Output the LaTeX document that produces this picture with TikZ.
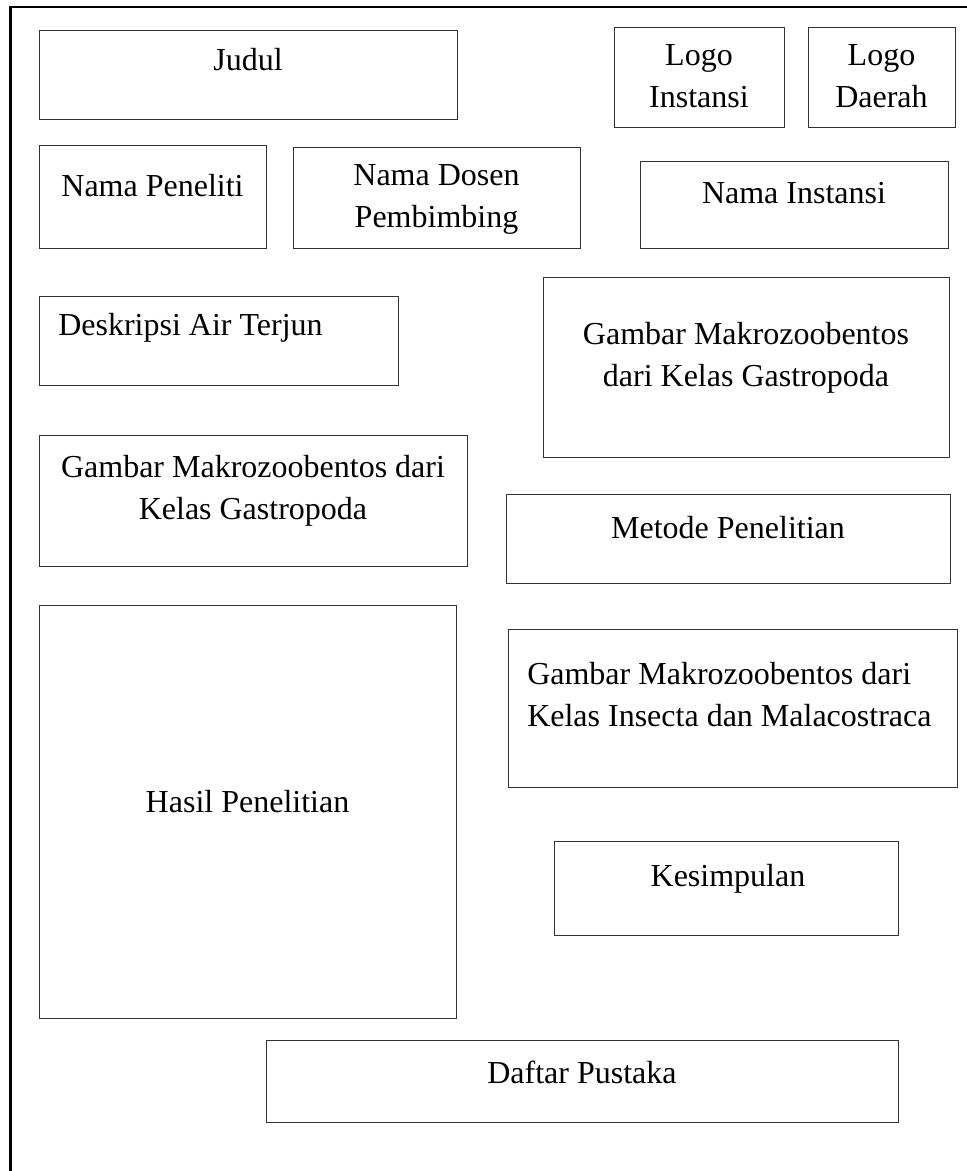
\documentclass[tikz,border=0pt]{standalone}
\usepackage{fontspec}
\setmainfont{Liberation Serif}
\begin{document}
\begin{tikzpicture}[x=0.75pt, y=-0.75pt,
  box/.style={draw=black!80, line width=0.75pt},
  lbl/.style={font=\fontsize{24}{31.5}\selectfont, inner sep=0pt, align=center, anchor=base},
  lbll/.style={lbl, align=left, anchor=base west}]

\useasboundingbox (0,0) rectangle (967,1171);

% Page frame (left and top only)
\draw[line width=1.8pt] (10.5,1171) -- (10.5,6.7) -- (967,6.7);

% Header row
\draw[box] (39,30) rectangle (457,119);
\node[lbl] (judul) at (248,70) {Judul};
\draw[box] (614,27) rectangle (784,127);
\node[lbl] (logoinst) at (699,107) {Logo\\Instansi};
\draw[box] (808,27) rectangle (955,127);
\node[lbl] (logodaerah) at (881.5,107) {Logo\\Daerah};

% Names
\draw[box] (39,145) rectangle (266,248);
\node[lbl] (peneliti) at (152.5,196) {Nama Peneliti};
\draw[box] (293,147) rectangle (580,248);
\node[lbl] (dosen) at (436.5,227) {Nama Dosen\\Pembimbing};
\draw[box] (640,161) rectangle (948,248);
\node[lbl] (instansi) at (794,203) {Nama Instansi};

% Left column
\draw[box] (39,296) rectangle (398,385);
\node[lbll] (deskripsi) at (58,335) {Deskripsi Air Terjun};
\draw[box] (39,435) rectangle (467,566);
\node[lbl] (gastroL) at (253,519) {Gambar Makrozoobentos dari\\Kelas Gastropoda};
\draw[box] (39,605) rectangle (456,1018);
\node[lbl] (hasil) at (247.5,812) {Hasil Penelitian};

% Right column
\draw[box] (543,277) rectangle (949,457);
\node[lbl] (gastroR) at (746,386) {Gambar Makrozoobentos\\dari Kelas Gastropoda};
\draw[box] (506,494) rectangle (950,583);
\node[lbl] (metode) at (728,538) {Metode Penelitian};
\draw[box] (508,629) rectangle (957,787);
\node[lbll] (insecta) at (527,726) {Gambar Makrozoobentos dari\\Kelas Insecta dan Malacostraca};
\draw[box] (554,841) rectangle (898,935);
\node[lbl] (simpul) at (728,886) {Kesimpulan};

% Bottom
\draw[box] (266,1040) rectangle (898,1122);
\node[lbl] (pustaka) at (582,1083) {Daftar Pustaka};

\end{tikzpicture}
\end{document}
